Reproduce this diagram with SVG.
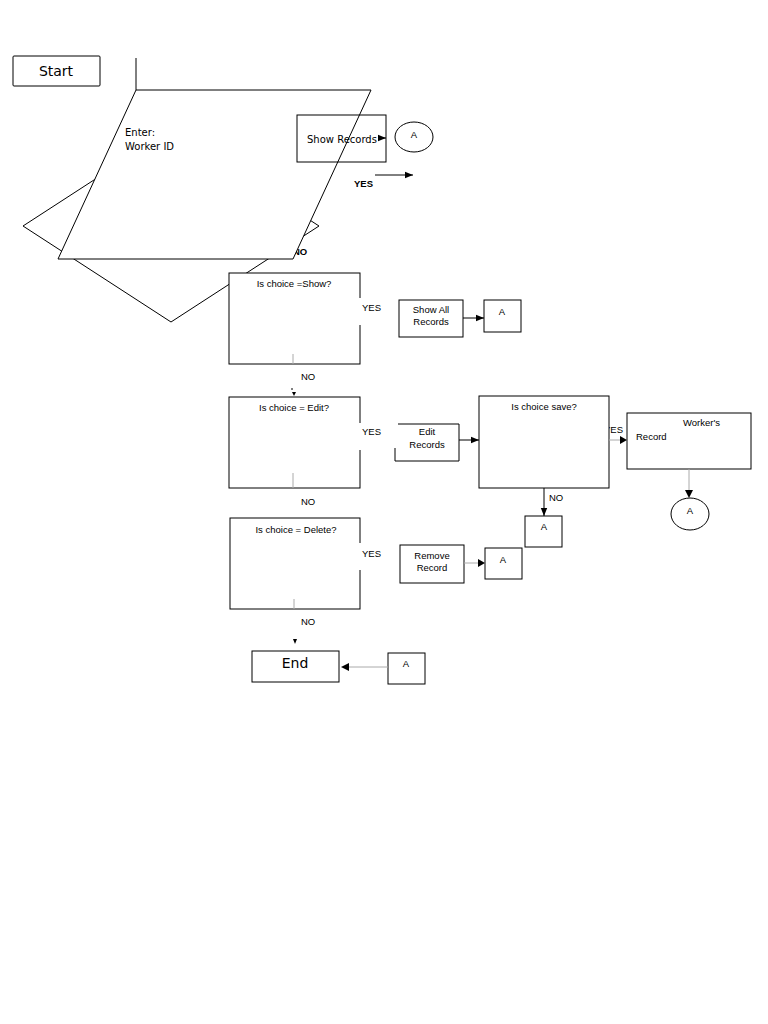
<svg xmlns="http://www.w3.org/2000/svg" width="768" height="1024" viewBox="0 0 768 1024">
<defs>
<marker id="ah" viewBox="0 0 10 10" refX="10" refY="5" markerWidth="8" markerHeight="8" markerUnits="userSpaceOnUse" orient="auto"><path d="M0,1 L10,5 L0,9 z" fill="#000"/></marker>
<style>
.s{fill:#fff;stroke:#000;stroke-width:1}
.n{fill:none;stroke:#000;stroke-width:1}
.t{font-family:"Liberation Sans",Arial,sans-serif;font-size:9.5px;fill:#000}
.c{text-anchor:middle}
.d{font-family:"DejaVu Sans",sans-serif;fill:#000}
.b{font-weight:bold}
.g{stroke:#aaa;stroke-width:1;fill:none}
.k{stroke:#000;stroke-width:1;fill:none}
</style>
</defs>
<rect width="768" height="1024" fill="#fff"/>

<g id="start"><rect class="s" x="13" y="56" width="87" height="30" rx="1"/><text class="d c" x="56" y="76" font-size="14">Start</text></g>

<g id="connectors">
<line class="k" x1="136" y1="58" x2="136" y2="90"/>
</g>

<g id="decision-hidden"><polygon class="s" points="171,130 319,226 171,322 23,226"/></g>

<g id="label-no-top"><text class="t b" x="293" y="255" font-size="10">NO</text></g>

<g id="input"><polygon class="s" points="136,90 371,90 293,259 58,259"/>
<text class="d" x="125" y="136" font-size="10">Enter:</text>
<text class="d" x="125" y="150" font-size="10">Worker ID</text></g>

<g id="show-records"><rect class="n" x="297" y="115" width="89" height="47"/><text class="d" x="307" y="143" font-size="10">Show Records</text></g>
<g id="circle-a1"><ellipse class="s" cx="414" cy="137" rx="19" ry="15"/><text class="t c" x="414" y="138" font-size="11">A</text></g>

<g id="labels-top">
<text class="t b" x="354" y="187" font-size="10">YES</text>
</g>

<g id="is-show"><rect class="s" x="229" y="273" width="131" height="91"/>
<line stroke="#fff" stroke-width="3" x1="360" y1="298" x2="360" y2="325"/>
<text class="t c" x="294" y="287">Is choice =Show?</text></g>

<g id="show-all"><rect class="s" x="399" y="300" width="64" height="37"/><text class="t c" x="431" y="313">Show All</text><text class="t c" x="431" y="325">Records</text></g>
<g id="a2"><rect class="s" x="484" y="300" width="37" height="32"/><text class="t c" x="502" y="315" font-size="11">A</text></g>

<g id="is-edit"><rect class="s" x="229" y="397" width="131" height="91"/>
<line stroke="#fff" stroke-width="3" x1="360" y1="423" x2="360" y2="450"/>
<text class="t c" x="294" y="411">Is choice = Edit?</text></g>

<g id="edit-records"><path class="n" d="M398,424 H459 V461 H395 V448"/><text class="t c" x="427" y="435">Edit</text><text class="t c" x="427" y="448">Records</text></g>

<g id="yes-save-label"><text class="t" x="604" y="433">YES</text></g>
<g id="is-save"><rect class="s" x="479" y="396" width="130" height="92"/><text class="t c" x="544" y="410">Is choice save?</text></g>

<g id="workers-record"><rect class="s" x="627" y="413" width="124" height="56"/><text class="t" x="683" y="426">Worker's</text><text class="t" x="636" y="440">Record</text></g>
<g id="circle-a2"><ellipse class="s" cx="690" cy="514" rx="19" ry="16"/><text class="t c" x="690" y="514" font-size="11">A</text></g>

<g id="a3"><rect class="s" x="525" y="516" width="37" height="31"/><text class="t c" x="544" y="530" font-size="11">A</text></g>

<g id="is-delete"><rect class="s" x="230" y="518" width="130" height="91"/>
<line stroke="#fff" stroke-width="3" x1="360" y1="543" x2="360" y2="570"/>
<text class="t c" x="296" y="533">Is choice = Delete?</text></g>

<g id="remove-record"><rect class="s" x="400" y="545" width="64" height="38"/><text class="t c" x="432" y="559">Remove</text><text class="t c" x="432" y="571">Record</text></g>
<g id="a4"><rect class="s" x="485" y="548" width="37" height="31"/><text class="t c" x="503" y="563" font-size="11">A</text></g>

<g id="end"><rect class="s" x="252" y="651" width="87" height="31"/><text class="d c" x="295" y="668" font-size="14">End</text></g>
<g id="a5"><rect class="s" x="388" y="653" width="37" height="31"/><text class="t c" x="406" y="667" font-size="11">A</text></g>

<g id="connector-lines">
<line class="k" x1="378" y1="138" x2="386" y2="138" marker-end="url(#ah)"/>
<line class="k" x1="375" y1="175" x2="413" y2="175" marker-end="url(#ah)"/>
<line class="k" x1="463" y1="318" x2="484" y2="318" marker-end="url(#ah)"/>
<line class="g" x1="293" y1="354" x2="293" y2="364"/>
<line class="k" x1="292" y1="388" x2="292" y2="390"/>
<path d="M292,392 L296,392 L294,396 z" fill="#000"/>
<line class="k" x1="459" y1="440" x2="479" y2="440" marker-end="url(#ah)"/>
<line class="g" x1="609" y1="440" x2="621" y2="440"/>
<path d="M620,436 L627,440 L620,444 z" fill="#000"/>
<line class="g" x1="689" y1="469" x2="689" y2="490"/>
<path d="M685,490 L689,498 L693,490 z" fill="#000"/>
<line class="k" x1="544" y1="488" x2="544" y2="516" marker-end="url(#ah)"/>
<line class="g" x1="293" y1="473" x2="293" y2="488"/>
<line class="g" x1="294" y1="599" x2="294" y2="609"/>
<line class="g" x1="464" y1="563" x2="478" y2="563"/>
<path d="M478,559 L485,563 L478,567 z" fill="#000"/>
<path d="M293,639 L297,639 L295,644 z" fill="#000"/>
<line class="g" x1="388" y1="667" x2="348" y2="667"/>
<path d="M349,663 L341,667 L349,671 z" fill="#000"/>
</g>

<g id="labels">
<text class="t" x="362" y="311">YES</text>
<text class="t" x="301" y="380">NO</text>
<text class="t" x="362" y="435">YES</text>
<text class="t" x="301" y="505">NO</text>
<text class="t" x="549" y="501">NO</text>
<text class="t" x="362" y="557">YES</text>
<text class="t" x="301" y="625">NO</text>
</g>
</svg>
